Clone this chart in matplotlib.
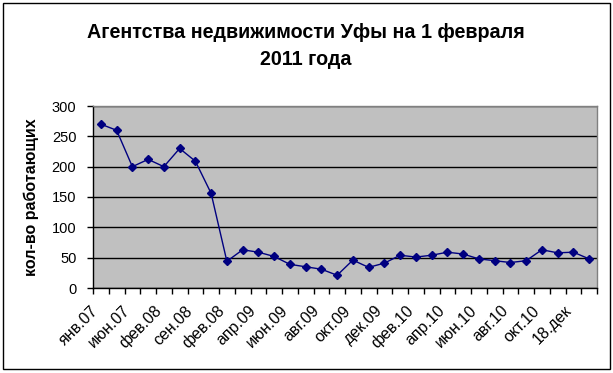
import matplotlib
matplotlib.use("Agg")
import matplotlib.pyplot as plt
from matplotlib.patches import Rectangle
from matplotlib.transforms import ScaledTranslation

plt.rcParams['font.family'] = ['Liberation Sans', 'DejaVu Sans']

title = "Агентства недвижимости Уфы на 1 февраля\n2011 года"
ylabel = "кол-во работающих"
values = [270, 260, 200, 212, 200, 230, 209, 156, 44, 63, 59, 52, 39, 35, 31, 21,
          46, 34, 41, 54, 51, 54, 59, 56, 48, 45, 42, 45, 63, 58, 59, 48]
shown_labels = ["янв.07", "июн.07", "фев.08", "сен.08", "фев.08", "апр.09", "июн.09",
                "авг.09", "окт.09", "дек.09", "фев.10", "апр.10", "июн.10", "авг.10",
                "окт.10", "18.дек"]
yticks = [0, 50, 100, 150, 200, 250, 300]

W, H = 613, 373
fig = plt.figure(figsize=(W / 100, H / 100), dpi=100)
fig.patch.set_facecolor('white')

# chart border
fig.patches.append(Rectangle((3 / W, 1 - 369 / H), (610 - 3) / W, (369 - 3) / H,
                             transform=fig.transFigure, fill=False,
                             edgecolor='black', linewidth=1.0))

ax = fig.add_axes([93 / W, 1 - 288 / H, (597 - 93) / W, (288 - 106) / H])
ax.set_facecolor('#C0C0C0')

n = len(values)
x = list(range(n))
ax.plot(x, values, color='#000080', linewidth=1.0, marker='D', markersize=4.5,
        markerfacecolor='#000080', markeredgecolor='#000080', zorder=3)

ax.set_yticks(yticks)
ax.set_yticklabels([str(v) for v in yticks], fontsize=10.5)
ax.yaxis.grid(True, color='black', linewidth=1.0)
ax.set_axisbelow(True)

# boundary ticks between categories
ax.set_xticks([i - 0.5 for i in range(n + 1)])
ax.set_xticklabels([])
ax.tick_params(axis='x', which='major', direction='out', length=4, width=1, color='black')
ax.tick_params(axis='y', direction='out', length=4, width=1, color='black', pad=8)

ax.set_xlim(-0.5, n - 0.5)
ax.set_ylim(0, 300)

# category labels on every other category, rotated like the original
off = ScaledTranslation(-10 / 100, -15 / 100, fig.dpi_scale_trans)
for i, lab in zip(x[::2], shown_labels):
    ax.text(i, 0, lab, transform=ax.get_xaxis_transform() + off, rotation=45,
            ha='right', va='top', rotation_mode='anchor', fontsize=11.5, clip_on=False)

for s in ['left', 'bottom']:
    ax.spines[s].set_color('black')
    ax.spines[s].set_linewidth(1.0)
for s in ['right', 'top']:
    ax.spines[s].set_color('#808080')
    ax.spines[s].set_linewidth(1.0)

ax.set_ylabel(ylabel, fontsize=11.5, fontweight='bold', labelpad=9)

fig.text(306 / W, 1 - 46 / H, title, ha='center', va='center', fontsize=14.2,
         fontweight='bold', linespacing=1.55)

fig.savefig("out.png", dpi=100)
